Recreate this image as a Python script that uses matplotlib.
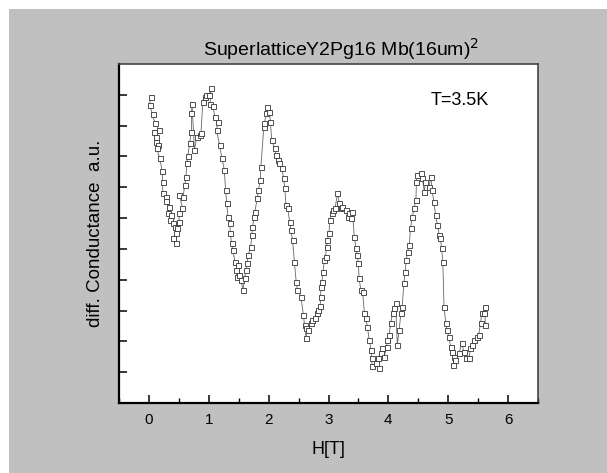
import matplotlib.pyplot as plt
from matplotlib.patches import Rectangle
from matplotlib.ticker import MultipleLocator, NullFormatter

plt.rcParams.update({
    "font.family": ["Liberation Sans", "DejaVu Sans"],
    "font.size": 11,
})

# magnetic field H [T]
field = [
    0.03, 0.01, 0.06, 0.10, 0.17, 0.08, 0.11, 0.12, 0.15, 0.13,
    0.18, 0.22, 0.23, 0.23, 0.28, 0.29, 0.33, 0.32, 0.37, 0.36,
    0.40, 0.43, 0.47, 0.45, 0.40, 0.45, 0.50, 0.51, 0.56, 0.51,
    0.57, 0.60, 0.62, 0.63, 0.65, 0.68, 0.71, 0.71, 0.72, 0.76,
    0.80, 0.85, 0.87, 0.90, 0.93, 0.96, 1.01, 1.04, 1.02, 1.07,
    1.10, 1.15, 1.13, 1.18, 1.22, 1.26, 1.28, 1.30, 1.32, 1.35,
    1.36, 1.38, 1.40, 1.44, 1.48, 1.46, 1.47, 1.51, 1.54, 1.57,
    1.60, 1.62, 1.64, 1.66, 1.70, 1.72, 1.73, 1.76, 1.77, 1.81,
    1.83, 1.86, 1.87, 1.92, 1.93, 1.96, 1.98, 2.01, 2.03, 2.05,
    2.10, 2.12, 2.15, 2.18, 2.22, 2.25, 2.27, 2.29, 2.32, 2.35,
    2.37, 2.40, 2.43, 2.46, 2.48, 2.54, 2.58, 2.60, 2.62, 2.62,
    2.65, 2.71, 2.73, 2.78, 2.80, 2.83, 2.86, 2.87, 2.87, 2.89,
    2.91, 2.93, 2.95, 2.97, 2.98, 3.01, 3.02, 3.06, 3.08, 3.11,
    3.15, 3.18, 3.21, 3.23, 3.29, 3.32, 3.35, 3.37, 3.40, 3.43,
    3.46, 3.48, 3.50, 3.51, 3.54, 3.57, 3.60, 3.62, 3.65, 3.68,
    3.71, 3.72, 3.73, 3.79, 3.85, 3.82, 3.87, 3.90, 3.93, 3.97,
    3.98, 4.01, 4.04, 4.07, 4.10, 4.12, 4.15, 4.18, 4.21, 4.23,
    4.26, 4.28, 4.30, 4.32, 4.35, 4.37, 4.40, 4.43, 4.46, 4.47,
    4.48, 4.54, 4.57, 4.60, 4.62, 4.68, 4.71, 4.73, 4.76, 4.79,
    4.82, 4.85, 4.87, 4.89, 4.91, 4.93, 4.96, 4.98, 5.01, 5.04,
    5.07, 5.10, 5.08, 5.12, 5.18, 5.23, 5.26, 5.29, 5.35, 5.37,
    5.40, 5.43, 5.48, 5.51, 5.54, 5.56, 5.60, 5.61, 5.62,
]

# differential conductance (arbitrary units)
conductance = [
    9.94, 9.67, 9.37, 9.08, 8.86, 8.80, 8.64, 8.48, 8.37, 8.26,
    7.94, 7.54, 7.18, 6.80, 6.69, 6.56, 6.37, 6.17, 6.10, 5.94,
    5.83, 5.72, 5.67, 5.51, 5.34, 5.18, 5.88, 6.15, 6.32, 6.75,
    6.69, 7.07, 7.34, 7.78, 8.01, 8.43, 8.80, 9.40, 9.70, 8.21,
    8.64, 8.70, 8.77, 9.78, 9.92, 9.99, 9.99, 10.21, 9.70, 9.64,
    9.29, 9.13, 8.86, 8.37, 7.94, 7.56, 6.91, 6.48, 6.04, 5.83,
    5.51, 5.18, 4.96, 4.58, 4.48, 4.32, 4.10, 4.15, 3.99, 3.67,
    4.06, 4.32, 4.53, 4.80, 5.07, 5.45, 5.72, 6.04, 6.21, 6.64,
    6.91, 7.24, 7.67, 8.96, 9.07, 9.40, 9.61, 9.45, 9.13, 8.53,
    8.26, 8.05, 7.88, 7.78, 7.62, 7.29, 6.97, 6.42, 6.32, 5.88,
    5.61, 5.29, 4.58, 3.94, 3.67, 3.45, 2.86, 2.53, 2.42, 2.10,
    2.37, 2.59, 2.69, 2.75, 2.91, 3.02, 3.15, 3.45, 3.77, 3.94,
    4.26, 4.64, 4.75, 5.07, 5.29, 5.51, 5.94, 6.15, 6.26, 6.32,
    6.80, 6.48, 6.32, 6.37, 6.26, 6.04, 6.15, 5.99, 6.21, 5.40,
    5.02, 4.80, 4.53, 4.05, 3.67, 3.61, 2.91, 2.75, 2.48, 2.04,
    1.72, 1.45, 1.20, 1.29, 1.13, 1.45, 1.61, 1.77, 1.50, 1.83,
    2.04, 2.21, 2.59, 2.91, 3.07, 3.24, 1.88, 2.37, 2.91, 3.12,
    3.88, 4.26, 4.64, 4.91, 5.13, 5.67, 6.04, 6.32, 6.59, 7.18,
    7.40, 7.45, 7.29, 6.86, 7.18, 7.02, 7.34, 6.91, 6.53, 6.10,
    5.78, 5.45, 5.34, 5.02, 4.58, 3.12, 2.59, 2.37, 2.15, 1.83,
    1.66, 1.50, 1.23, 1.40, 1.61, 1.94, 1.66, 1.45, 1.45, 1.77,
    1.88, 2.04, 2.15, 2.21, 2.59, 2.91, 2.91, 3.12, 2.53,
]

fig = plt.figure(figsize=(6.07, 4.73), dpi=100)
fig.patch.set_facecolor("#c0c0c0")
# thin white border along the top and left of the scanned picture
fig.patches.append(Rectangle((0, 1 - 9 / 473), 1, 9 / 473, transform=fig.transFigure,
                             facecolor="white", edgecolor="none", zorder=-1))
fig.patches.append(Rectangle((0, 0), 9 / 607, 1, transform=fig.transFigure,
                             facecolor="white", edgecolor="none", zorder=-1))

ax = fig.add_axes([119 / 607, 1 - 403 / 473, 419 / 607, 339 / 473])
ax.set_facecolor("white")

ax.plot(field, conductance, color="#666666", lw=0.6,
        marker="s", ms=3.6, mfc="white", mec="#333333", mew=0.6)

ax.set_xlim(-0.5, 6.5)
ax.set_ylim(0, 11)
ax.xaxis.set_major_locator(MultipleLocator(1))
ax.xaxis.set_minor_locator(MultipleLocator(0.5))
ax.set_yticks(range(1, 11))
ax.yaxis.set_major_formatter(NullFormatter())

ax.tick_params(which="major", direction="in", length=5.5, width=1.1, labelsize=11, pad=7)
ax.tick_params(which="minor", direction="in", length=3.5, width=1.0)

for side in ("left", "bottom"):
    ax.spines[side].set_linewidth(1.6)
    ax.spines[side].set_color("black")
for side in ("top", "right"):
    ax.spines[side].set_linewidth(1.2)
    ax.spines[side].set_color("#444444")

ax.set_title("SuperlatticeY2Pg16 Mb(16um)$^2$", fontsize=14, x=0.53, pad=6)
ax.set_xlabel("H[T]", fontsize=13, labelpad=10)
ax.set_ylabel("diff. Conductance  a.u.", fontsize=13.5, labelpad=4)
ax.text(4.71, 9.8, "T=3.5K", fontsize=13, ha="left", va="center")

plt.savefig("out.png", dpi=100, facecolor=fig.get_facecolor())
